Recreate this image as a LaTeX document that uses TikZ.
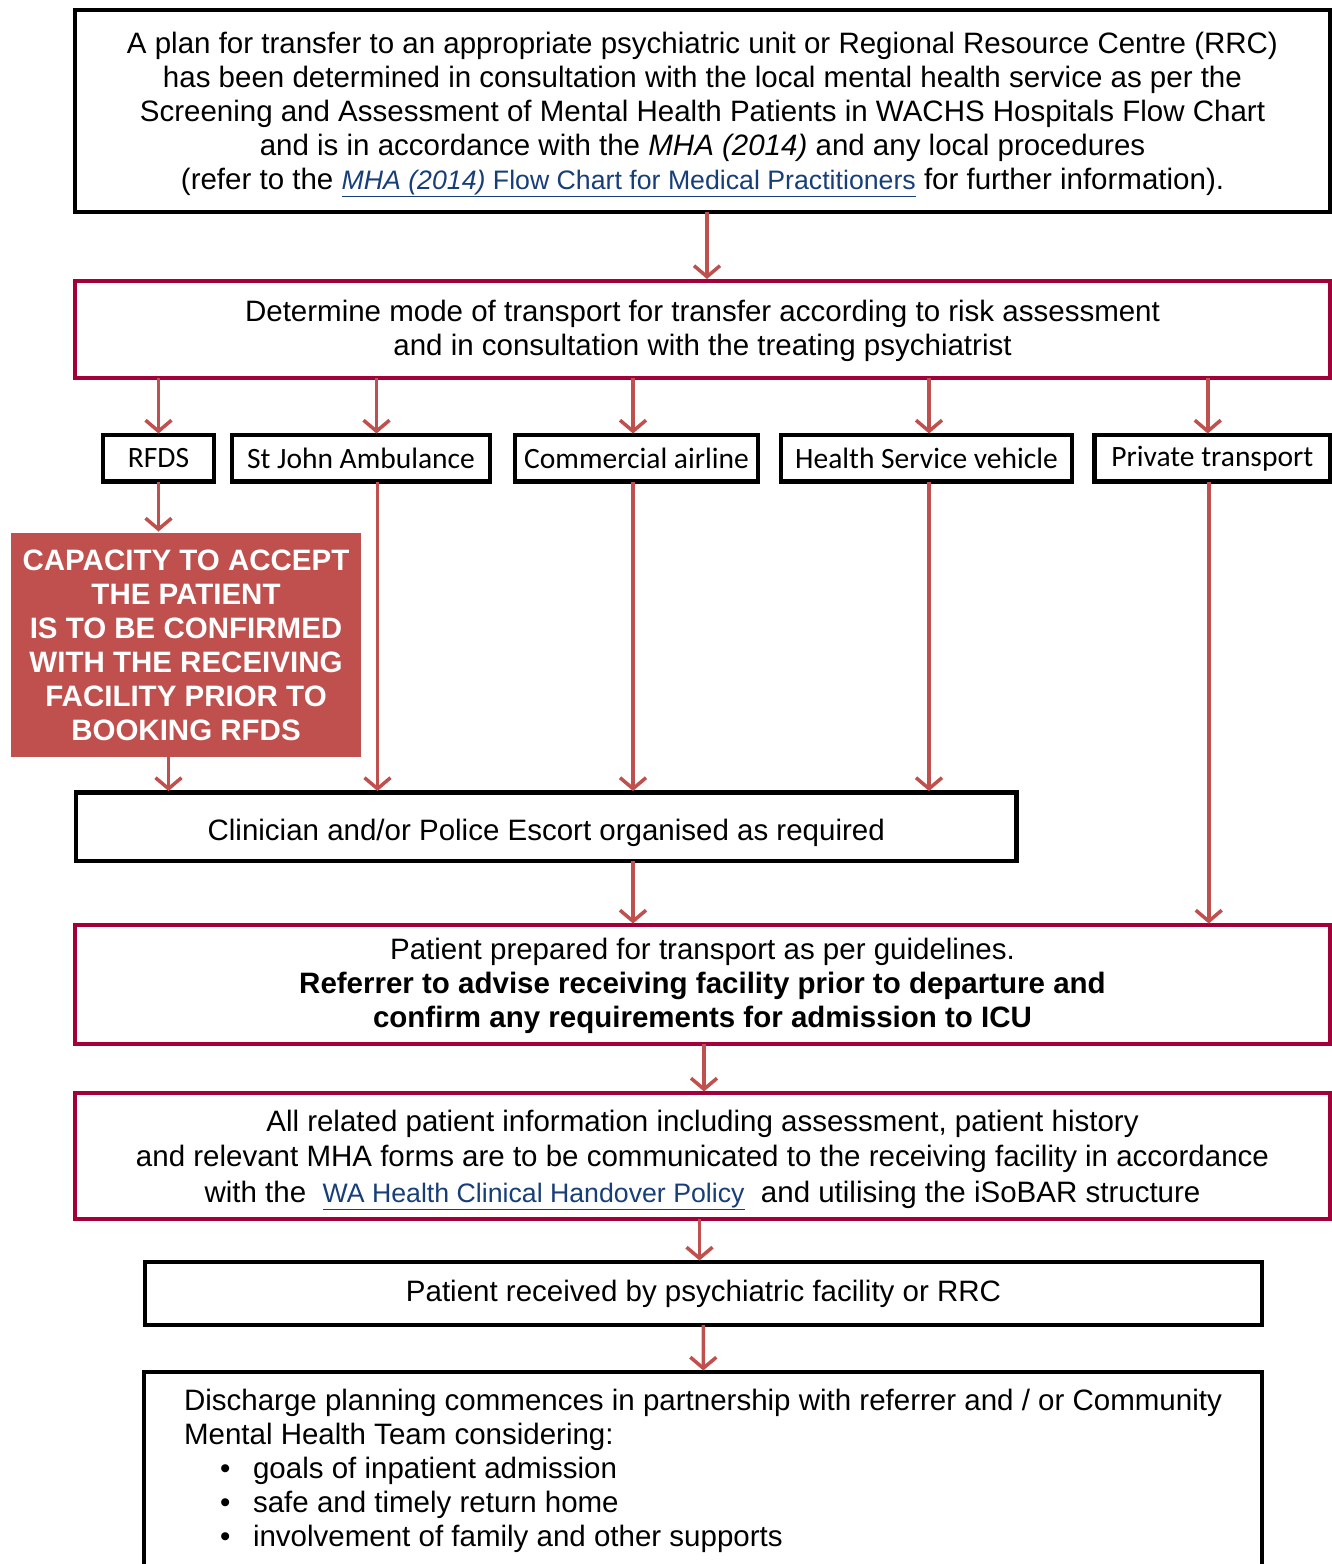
\documentclass[tikz,border=0pt]{standalone}
\usepackage{fontspec}
\setmainfont{Liberation Sans}
\newfontfamily\calibrifont{Carlito}
\usetikzlibrary{arrows.meta, positioning}
\definecolor{framecolor}{RGB}{163, 0, 58}
\definecolor{arrowcolor}{RGB}{192, 80, 77}
\definecolor{linkcolor}{RGB}{23, 62, 120}
\newcommand{\weblink}[1]{{\fontsize{26.7}{34}\selectfont\textcolor{linkcolor}{\underline{#1}}}}

\begin{document}
\begin{tikzpicture}[
    x=1pt, y=-1pt,
    box/.style={rectangle, draw=black, line width=4.5pt, anchor=north west, align=center, inner sep=0pt, outer sep=0pt, font=\fontsize{29.5}{34}\selectfont},
    redbox/.style={box, draw=framecolor, line width=4pt},
    modebox/.style={box, font=\calibrifont\fontsize{29.5}{34}\selectfont},
    arrow/.style={-{Straight Barb[length=11pt, width=26pt]}, draw=arrowcolor, line width=3.5pt, shorten >=1.5pt}
]
\useasboundingbox (0,0) rectangle (1332,1564);

% Plan
\node[box, text depth=0pt, minimum width=1255, minimum height=202] (plan) at (75,10) {
    A plan for transfer to an appropriate psychiatric unit or Regional Resource Centre (RRC)\\
    has been determined in consultation with the local mental health service as per the\\
    Screening and Assessment of Mental Health Patients in WACHS Hospitals Flow Chart\\
    and is in accordance with the \textit{MHA (2014)} and any local procedures\\
    (refer to the \weblink{\textit{MHA (2014)} Flow Chart for Medical Practitioners} for further information).
};

% Mode of transport
\node[redbox, text depth=2pt, minimum width=1255, minimum height=97.5] (mode) at (75,280.5) {
    Determine mode of transport for transfer according to risk assessment\\
    and in consultation with the treating psychiatrist
};

\node[modebox, minimum width=111, minimum height=46.5] (rfds) at (103,435) {RFDS};
\node[modebox, minimum width=258, minimum height=46.5] (john) at (232,435) {St John Ambulance};
\node[modebox, minimum width=243, minimum height=46.5] (comm) at (515,435) {Commercial airline};
\node[modebox, minimum width=291, minimum height=46.5] (health) at (781,435) {Health Service vehicle};
\node[modebox, minimum width=235.5, minimum height=46.5] (priv) at (1094.5,435) {Private transport};

% RFDS warning
\node[box, draw=none, fill=arrowcolor, text=white, font=\bfseries\fontsize{29.5}{34}\selectfont, minimum width=350, minimum height=224] (capacity) at (11,533) {
    CAPACITY TO ACCEPT\\
    THE PATIENT\\
    IS TO BE CONFIRMED\\
    WITH THE RECEIVING\\
    FACILITY PRIOR TO\\
    BOOKING RFDS
};

% Escort
\node[box, minimum width=940.5, minimum height=68.5] (escort) at (76,792.5) {\raisebox{-6pt}[\height][\depth]{Clinician and/or Police Escort organised as required}};

% Preparation
\node[redbox, text depth=2pt, minimum width=1255, minimum height=118.5] (prepared) at (75,925) {
    Patient prepared for transport as per guidelines.\\
    \textbf{Referrer to advise receiving facility prior to departure and}\\
    \textbf{confirm any requirements for admission to ICU}
};

% Handover
\node[redbox, text depth=0pt, font=\fontsize{29.5}{35.5}\selectfont, minimum width=1255, minimum height=126] (handover) at (75,1093) {
    All related patient information including assessment, patient history\\
    and relevant MHA forms are to be communicated to the receiving facility in accordance\\
    with the \ \weblink{WA Health Clinical Handover Policy} \ and utilising the iSoBAR structure
};

\node[box, minimum width=1117, minimum height=63] (received) at (145,1262) {Patient received by psychiatric facility or RRC};

% Discharge
\node[box, align=left, minimum width=1118, minimum height=198] (discharge) at (144,1372) {
    Discharge planning commences in partnership with referrer and / or Community\\
    Mental Health Team considering:\\
    \hspace*{36pt}\makebox[33pt][l]{\textbullet}goals of inpatient admission\\
    \hspace*{36pt}\makebox[33pt][l]{\textbullet}safe and timely return home\\
    \hspace*{36pt}\makebox[33pt][l]{\textbullet}involvement of family and other supports
};

% Arrow points
\coordinate (planout) at ([xshift=4.5]plan.south);
\coordinate (rfdstop) at (rfds.north);
\coordinate (rfdsbot) at (rfds.south);
\coordinate (johntop) at ([xshift=15.5]john.north);
\coordinate (johnbot) at ([xshift=16.5]john.south);
\coordinate (commtop) at ([xshift=-3.5]comm.north);
\coordinate (commbot) at ([xshift=-3.5]comm.south);
\coordinate (healthtop) at ([xshift=2.5]health.north);
\coordinate (healthbot) at ([xshift=2.5]health.south);
\coordinate (privtop) at ([xshift=-4.5]priv.north);
\coordinate (privbot) at ([xshift=-3.5]priv.south);
\coordinate (capout) at ([xshift=-17.5]capacity.south);

% Arrows
\draw[arrow] (planout) -- (planout |- mode.north);
\foreach \n in {rfds, john, comm, health, priv} {
    \draw[arrow] (mode.south -| \n top) -- (\n top);
}
\draw[arrow] (rfdsbot) -- (rfdsbot |- capacity.north);
\draw[arrow] (capout) -- (capout |- escort.north);
\foreach \n in {john, comm, health} {
    \draw[arrow] (\n bot) -- (\n bot |- escort.north);
}
\draw[arrow] (escort.south -| commbot) -- (prepared.north -| commbot);
\draw[arrow] (privbot) -- (privbot |- prepared.north);
\draw[arrow] ([xshift=1.5]prepared.south) -- ([xshift=1.5]handover.north);
\draw[arrow] ([xshift=-3]handover.south) -- ([xshift=-3]handover.south |- received.north);
\draw[arrow] (received) -- (discharge);

\end{tikzpicture}
\end{document}
